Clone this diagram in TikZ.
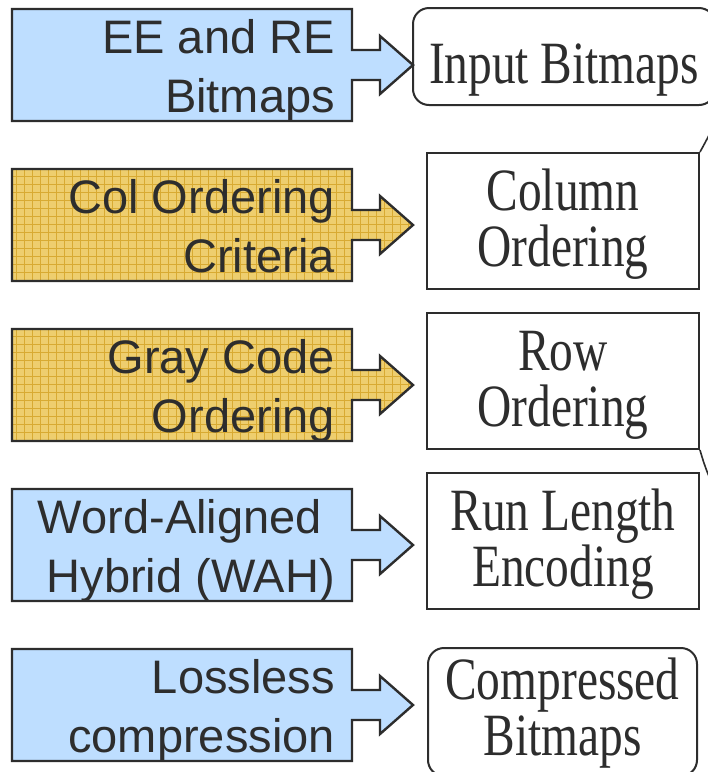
\documentclass[tikz,border=0pt]{standalone}
\usepackage{fontspec}
\setmainfont{Liberation Serif}
\newfontfamily\calfont{Liberation Sans}
\newfontfamily\boxfont[FakeStretch=0.79]{Liberation Serif}
\definecolor{calblue}{RGB}{190,222,255}
\definecolor{calgold}{RGB}{238,206,110}
\definecolor{goldline}{RGB}{216,170,50}
\definecolor{ink}{RGB}{45,45,45}
\tikzset{
  callout/.style={draw=ink, line width=2.4pt, line join=miter},
  bluecall/.style={callout, fill=calblue},
  goldcall/.style={callout, fill=calgold,
    path picture={\draw[goldline, line width=0.9pt]
      (path picture bounding box.south west) grid[step=8pt] (path picture bounding box.north east);}},
  calltext/.style={font=\calfont\fontsize{47}{59}\selectfont, text=ink, align=right, anchor=base east, inner sep=0pt},
  stepbox/.style={draw=ink, line width=2pt, minimum width=272pt, minimum height=136pt, inner sep=0pt,
    font=\boxfont\fontsize{60}{56}\selectfont, text=ink, align=center},
  roundbox/.style={stepbox, rounded corners=16pt},
  link/.style={draw=ink, line width=1.6pt},
}
\newcommand\callshape[2]{%
  \path[#1] (12,#2) -- (352,#2) -- (352,#2+41) -- (380,#2+41) -- (380,#2+27) -- (413,#2+56)
    -- (380,#2+85) -- (380,#2+71) -- (352,#2+71) -- (352,#2+112) -- (12,#2+112) -- cycle;}
\begin{document}
\begin{tikzpicture}[x=1pt,y=-1pt]
  \clip (0,0) rectangle (708,772);
  \fill[white] (0,0) rectangle (708,772);
  % right boxes
  \node[roundbox, minimum width=302pt, minimum height=97pt, text height=60pt, text depth=7pt] (inp) at (564,56.5) {Input Bitmaps};
  \node[stepbox, text height=100pt, text depth=10pt] (col) at (563,221) {Column\\Ordering};
  \node[stepbox, text height=100pt, text depth=10pt] (row) at (563,381) {Row\\Ordering};
  \node[stepbox, text height=100pt, text depth=10pt] (rle) at (563,541) {Run Length\\Encoding};
  \node[roundbox, minimum width=269pt, minimum height=128pt, text height=98pt, text depth=12pt] (comp) at (562.5,712) {Compressed\\Bitmaps};
  % connectors leaving the frame
  \coordinate (rowout) at (760,560);
  \draw[link] (inp.east) .. controls +(30,0) and +(25,-45) .. (col.north east);
  \draw[link] (row.south east) .. controls +(20,72) and +(-10,-40) .. (rowout);
  % callouts
  \callshape{bluecall}{9}
  \callshape{goldcall}{169}
  \callshape{goldcall}{329}
  \callshape{bluecall}{489}
  \callshape{bluecall}{649}
  \node[calltext] (c1) at (335,112) {EE and RE\\Bitmaps};
  \node[calltext] (c2) at (335,272) {Col Ordering\\Criteria};
  \node[calltext] (c3) at (335,432) {Gray Code\\Ordering};
  \node[calltext] (c4) at (335,592) {Word-Aligned\hspace*{13pt}\\Hybrid (WAH)};
  \node[calltext] (c5) at (335,752) {Lossless\\compression};
\end{tikzpicture}
\end{document}
